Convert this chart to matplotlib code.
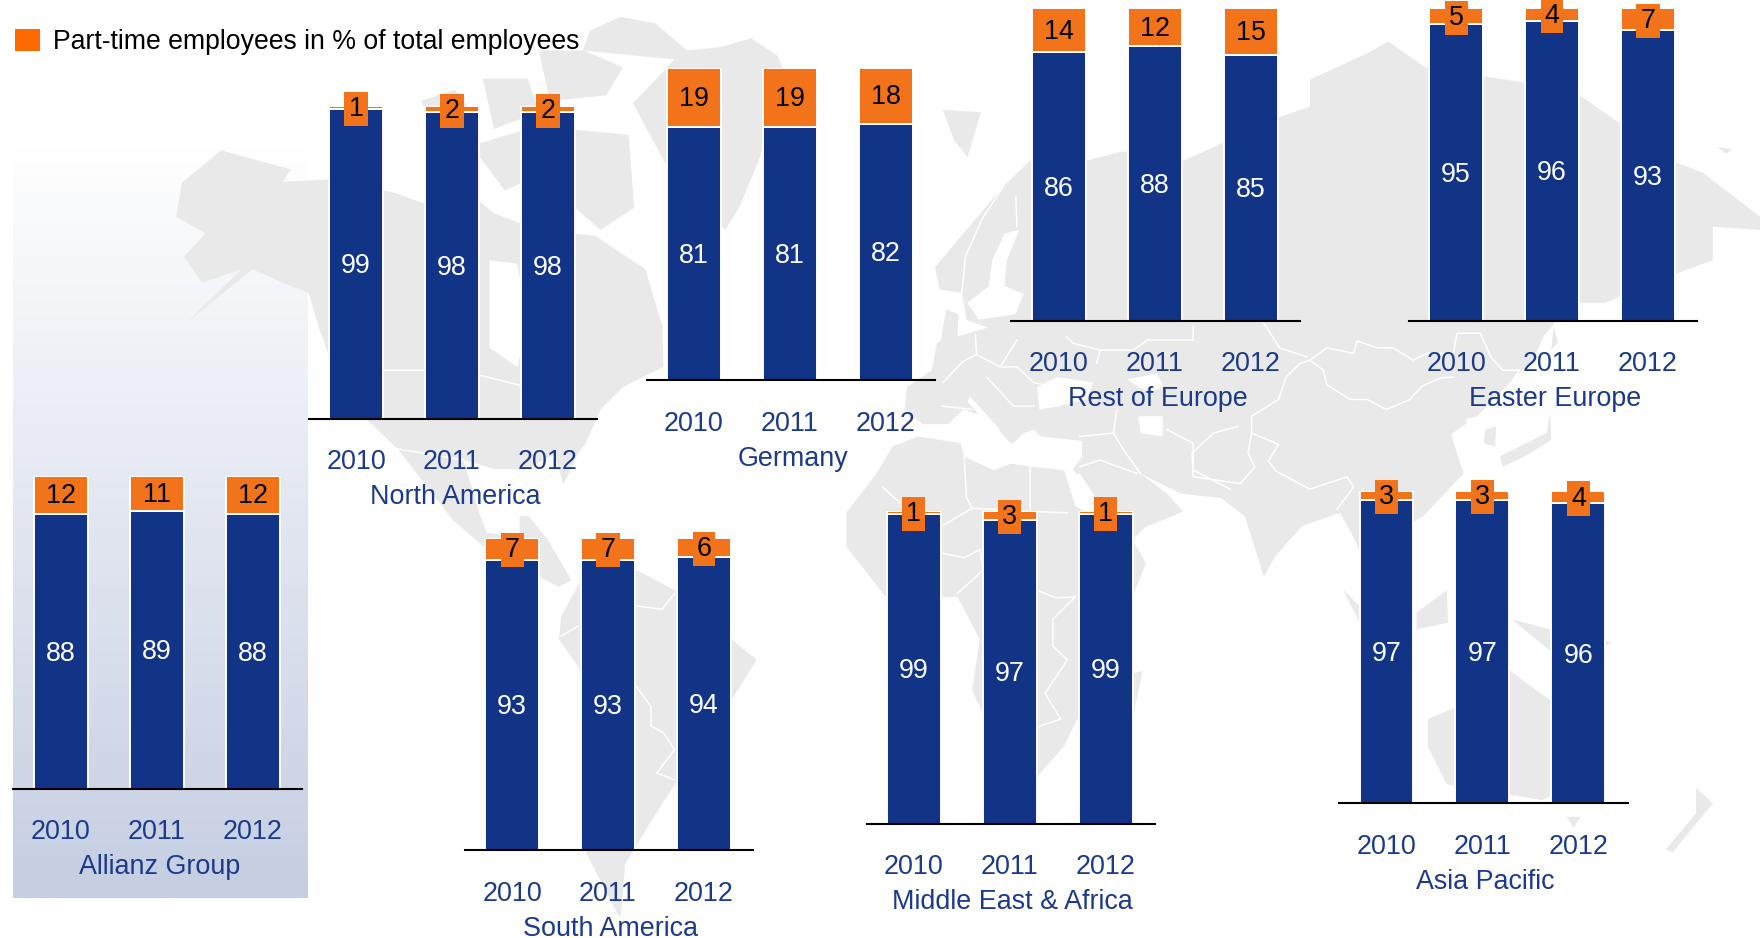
"""Part-time vs full-time share of employees per region, drawn over a world map."""
import matplotlib
matplotlib.use("Agg")
import matplotlib.pyplot as plt
import numpy as np
from matplotlib.colors import LinearSegmentedColormap
from matplotlib.patches import Patch, Polygon

plt.rcParams["font.family"] = ["Liberation Sans", "DejaVu Sans"]

YEARS = ["2010", "2011", "2012"]
REGIONS = ["Allianz Group", "North America", "Germany", "Rest of Europe", "Easter Europe",
           "South America", "Middle East & Africa", "Asia Pacific"]
FULL_TIME = {
    "Allianz Group": [88, 89, 88],
    "North America": [99, 98, 98],
    "Germany": [81, 81, 82],
    "Rest of Europe": [86, 88, 85],
    "Easter Europe": [95, 96, 93],
    "South America": [93, 93, 94],
    "Middle East & Africa": [99, 97, 99],
    "Asia Pacific": [97, 97, 96],
}
PART_TIME = {
    "Allianz Group": [12, 11, 12],
    "North America": [1, 2, 2],
    "Germany": [19, 19, 18],
    "Rest of Europe": [14, 12, 15],
    "Easter Europe": [5, 4, 7],
    "South America": [7, 7, 6],
    "Middle East & Africa": [1, 3, 1],
    "Asia Pacific": [3, 3, 4],
}

# layout, in pixels of a 1568x836 canvas: left end of the axis line, baseline y
W, H = 1568, 836
PANEL_XY = {
    "Allianz Group": (12, 703),
    "North America": (275, 373),
    "Germany": (576, 339),
    "Rest of Europe": (901, 286),
    "Easter Europe": (1255, 286),
    "South America": (414, 758),
    "Middle East & Africa": (772, 734),
    "Asia Pacific": (1193, 716),
}
PANEL_W = 257
PX_PER_UNIT = 2.785
YEAR_STEP = 85.5
FIRST_BAR = 42.2
BAR_W = 48

BLUE = "#123486"
ORANGE = "#F3731A"
TEXT_BLUE = "#1B3A8C"
MAP_GREY = "#E9E9E9"
FONT = 19.4

# hand traced background map, same canvas
LAND = [
    # north america
    [(252, 162), (259, 151), (197, 134), (162, 163), (157, 193), (183, 208), (164, 229), (180, 252),
     (215, 240), (167, 287), (225, 240), (252, 252), (275, 261), (285, 295), (300, 335), (327, 374),
     (355, 401), (362, 410), (403, 463), (434, 490), (461, 505), (498, 523), (509, 517), (488, 481),
     (471, 460), (463, 460), (463, 478), (434, 475), (427, 457), (413, 410), (440, 418), (470, 418),
     (494, 405), (502, 432), (515, 404), (522, 395), (535, 365), (555, 345), (591, 327), (590, 290),
     (575, 240), (530, 210), (480, 205), (440, 190), (410, 165), (377, 181), (352, 172), (292, 160)],
    # arctic islands
    [(505, 115), (560, 120), (565, 185), (535, 205), (495, 170)],
    [(480, 45), (520, 45), (555, 60), (540, 85), (490, 90)],
    [(375, 90), (405, 80), (425, 105), (395, 125)],
    [(430, 70), (470, 70), (480, 100), (440, 115)],
    [(420, 130), (470, 115), (490, 150), (450, 170)],
    # greenland
    [(519, 45), (526, 27), (553, 15), (584, 21), (612, 45), (642, 42), (669, 34), (693, 50), (700, 68),
     (676, 143), (659, 184), (646, 205), (594, 148), (564, 92), (601, 53)],
    # south america
    [(516, 520), (500, 549), (498, 570), (515, 594), (540, 680), (567, 731), (535, 745), (522, 760),
     (550, 814), (553, 817), (557, 770), (590, 716), (648, 630), (674, 588), (652, 570), (601, 526),
     (567, 508)],
    # africa
    [(754, 457), (781, 422), (795, 398), (818, 389), (856, 395), (859, 407), (885, 419), (901, 413),
     (919, 416), (948, 419), (958, 451), (1009, 481), (1021, 502), (1009, 532), (962, 636), (948, 665),
     (924, 692), (876, 636), (866, 615), (873, 570), (853, 532), (789, 532), (754, 487)],
    [(1018, 598), (1009, 640), (1009, 600)],
    # eurasia
    [(808, 345), (806, 365), (822, 378), (845, 378), (858, 365), (880, 372), (900, 395), (964, 395),
     (964, 407), (956, 418), (985, 462), (1010, 480), (1020, 470), (1054, 456), (1040, 440), (1016, 422),
     (1052, 440), (1088, 444), (1109, 460), (1126, 514), (1136, 496), (1160, 469), (1194, 457),
     (1207, 481), (1218, 510), (1226, 545), (1240, 490), (1250, 470), (1268, 460), (1304, 422),
     (1298, 404), (1293, 387), (1307, 377), (1304, 367), (1287, 379), (1316, 371), (1348, 338),
     (1366, 321), (1375, 300), (1400, 270), (1430, 270), (1496, 243), (1526, 232), (1526, 202),
     (1568, 205), (1568, 193), (1517, 154), (1494, 145), (1400, 80), (1270, 60), (1237, 37), (1219, 47),
     (1167, 71), (1167, 95), (1141, 104), (1055, 143), (1000, 135), (960, 145), (918, 143), (894, 166),
     (833, 238), (837, 258), (857, 261), (861, 285), (880, 292), (835, 305), (830, 330)],
    # smaller pieces
    [(843, 276), (854, 280), (852, 318), (835, 322)],
    [(840, 98), (874, 100), (862, 140), (850, 125)],
    [(1530, 131), (1543, 133), (1538, 137)],
    [(1323, 383), (1333, 380), (1332, 398), (1322, 395)],
    [(1381, 368), (1378, 386), (1360, 395), (1336, 407), (1339, 416), (1362, 405), (1382, 392)],
    [(1384, 291), (1388, 305), (1382, 312)],
    [(1197, 526), (1211, 540), (1230, 575), (1216, 565)],
    [(1262, 546), (1289, 526), (1290, 555), (1262, 561)],
    [(1347, 552), (1381, 561), (1436, 573), (1400, 590), (1381, 580)],
    [(1272, 641), (1296, 631), (1344, 597), (1381, 624), (1429, 665), (1400, 700), (1374, 713),
     (1289, 699), (1272, 665)],
    [(1396, 728), (1408, 728), (1402, 738)],
    [(1511, 702), (1526, 716), (1490, 760), (1484, 757), (1511, 725)],
]
WATER = [
    [(436, 232), (461, 235), (470, 290), (461, 327), (436, 310)],
    # baltic
    [(908, 205), (895, 208), (884, 232), (881, 255), (862, 270), (872, 285), (905, 280), (912, 262),
     (895, 255), (897, 232)],
    # mediterranean
    [(860, 402), (870, 395), (878, 389), (903, 395), (912, 386), (921, 383), (927, 389), (964, 393),
     (964, 404), (950, 416), (919, 416), (901, 413), (885, 419)],
    [(864, 353), (891, 383), (885, 385), (862, 358)],
    # black and caspian seas
    [(924, 345), (942, 336), (974, 341), (968, 356), (944, 362), (926, 365)],
    [(1014, 371), (1036, 371), (1036, 389), (1016, 386)],
    [(1004, 338), (1031, 333), (1037, 345), (1022, 350)],
    # red sea and gulf
    [(953, 425), (971, 451), (977, 445), (962, 422)],
]
BORDERS = [
    # north and south america
    [(300, 330), (378, 330), (430, 335), (470, 345), (500, 335)],
    [(354, 400), (413, 410)],
    [(500, 567), (515, 558)],
    [(567, 540), (590, 543), (601, 529)],
    [(567, 612), (580, 630), (580, 647), (591, 653), (601, 668), (585, 689), (601, 695)],
    # africa
    [(786, 434), (805, 451), (839, 469), (866, 453), (924, 456), (951, 457)],
    [(859, 407), (861, 443), (866, 453)],
    [(839, 493), (859, 497), (873, 490), (876, 508), (853, 529)],
    [(924, 526), (941, 533), (958, 532), (938, 552), (938, 576), (951, 588), (931, 618), (945, 641),
     (924, 648)],
    [(918, 417), (918, 454)],
    # asia
    [(1167, 321), (1182, 310), (1206, 315), (1209, 304), (1227, 310), (1241, 310), (1259, 321),
     (1271, 315), (1295, 315), (1298, 297), (1319, 297), (1328, 318), (1339, 330), (1354, 330),
     (1348, 338)],
    [(1167, 321), (1179, 330), (1182, 343), (1203, 356), (1218, 356), (1235, 365), (1256, 356),
     (1267, 344), (1283, 337), (1295, 336)],
    [(1167, 321), (1158, 324), (1146, 336), (1139, 356), (1115, 371), (1115, 386)],
    [(1115, 386), (1139, 396), (1130, 411), (1137, 420), (1167, 436), (1200, 425), (1206, 434),
     (1191, 454)],
    [(1115, 386), (1112, 404), (1118, 416), (1105, 431), (1063, 425), (1062, 404), (1081, 386),
     (1103, 380)],
    [(1126, 288), (1140, 310), (1164, 318)],
    [(992, 386), (1001, 401), (1016, 422)],
    [(1040, 383), (1063, 395), (1063, 419), (1096, 436)],
    [(962, 389), (992, 386), (995, 365)],
    [(962, 416), (980, 410), (1013, 422)],
    # europe
    [(869, 298), (870, 316), (858, 322), (840, 341)],
    [(870, 316), (891, 327), (906, 303)],
    [(891, 327), (906, 327), (921, 341), (936, 344)],
    [(977, 324), (980, 312), (956, 306), (950, 300)],
    [(980, 312), (1010, 312), (1022, 303), (1063, 303), (1063, 291)],
    [(840, 362), (866, 365)],
    [(879, 336), (903, 362), (921, 362)],
    [(894, 166), (875, 195), (860, 229), (857, 261)],
    [(905, 175), (906, 202)],
]

fig = plt.figure(figsize=(17.6, 9.38), dpi=100)

bg = fig.add_axes([0, 0, 1, 1])
bg.axis("off")

# blue fade behind the group figures
fade = LinearSegmentedColormap.from_list("fade", ["#FFFFFF", "#C5CEE2"])
bg.imshow(np.linspace(0, 1, 256).reshape(-1, 1), cmap=fade, aspect="auto", extent=(12, 274, 800, 130))
bg.set_xlim(0, W)
bg.set_ylim(H, 0)

for poly in LAND:
    bg.add_patch(Polygon(poly, closed=True, fc=MAP_GREY, ec="none"))
for poly in WATER:
    bg.add_patch(Polygon(poly, closed=True, fc="white", ec="none"))
for line in BORDERS:
    xs, ys = zip(*line)
    bg.plot(xs, ys, color="white", lw=1.1)

for region in REGIONS:
    left, base = PANEL_XY[region]
    ax = fig.add_axes([left / W, 1 - base / H, PANEL_W / W, 100 * PX_PER_UNIT / H])
    ax.patch.set_visible(False)

    x = np.arange(len(YEARS))
    blue = ax.bar(x, FULL_TIME[region], BAR_W / YEAR_STEP, color=BLUE, edgecolor="white", linewidth=1.4)
    orange = ax.bar(x, PART_TIME[region], BAR_W / YEAR_STEP, bottom=FULL_TIME[region], color=ORANGE,
                    edgecolor="white", linewidth=1.4)
    for label in ax.bar_label(blue, label_type="center", color="white", fontsize=FONT):
        label.xyann = (0, -1.6)
    labels = ax.bar_label(orange, label_type="center", color="black", fontsize=FONT)
    for label, value in zip(labels, PART_TIME[region]):
        label.xyann = (0, -1.0)
        # thin segments get a box so the number stays readable
        if value < 10:
            label.set_bbox(dict(boxstyle="square,pad=0.15", fc=ORANGE, ec="none"))

    ax.set_xlim(-FIRST_BAR / YEAR_STEP, (PANEL_W - FIRST_BAR) / YEAR_STEP)
    ax.set_ylim(0, 100)
    ax.set_yticks([])
    ax.set_xticks(x, YEARS, color=TEXT_BLUE, fontsize=FONT)
    ax.tick_params(axis="x", length=0, pad=22)
    ax.set_xlabel(region, color=TEXT_BLUE, fontsize=FONT, labelpad=6.5, x=0.507)
    for side in ["top", "left", "right"]:
        ax.spines[side].set_visible(False)
    ax.spines["bottom"].set_linewidth(1.5)
    ax.spines["bottom"].set_color("black")

handle = Patch(facecolor="#FF6A00", edgecolor="none")
fig.legend(handles=[handle], labels=["Part-time employees in % of total employees"], frameon=False,
           loc="center left", bbox_to_anchor=(15 / 1760, 1 - 42 / 938), borderpad=0, borderaxespad=0,
           handlelength=0.92, handleheight=0.92, handletextpad=0.52, fontsize=19.2)

fig.savefig("out.png", dpi=100)
